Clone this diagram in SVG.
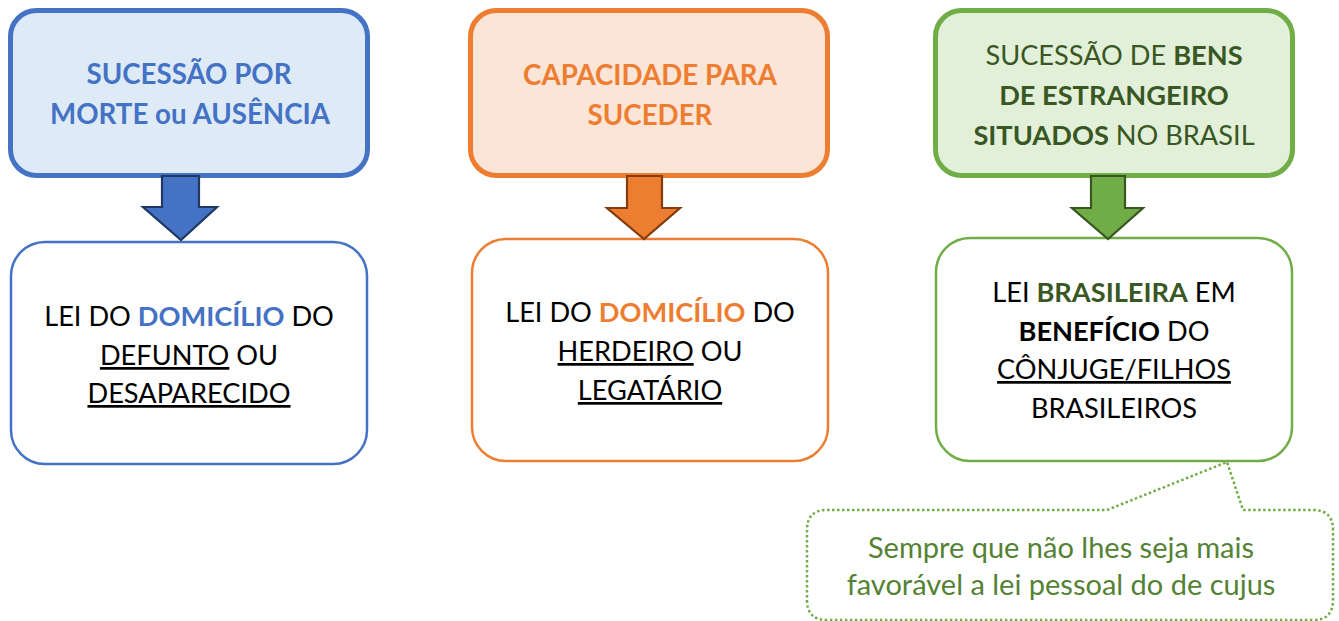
<svg xmlns="http://www.w3.org/2000/svg" width="1339" height="621" viewBox="0 0 1339 621">
<style>
text{font-family:Lato,"Open Sans","Liberation Sans",sans-serif;text-anchor:middle}
.hd{font-size:27.7px;font-weight:bold}
.gh{font-size:27.2px}
.bd{font-size:27.2px;fill:#000}
.nt{font-size:29px;fill:#548235}
.b{font-weight:bold}
.u{text-decoration:underline}
.blue{fill:#4472C4}
.org{fill:#ED7D31}
.dg{fill:#385723}
.top{stroke-width:5}
.bot{stroke-width:2.5;fill:#fff}
.arr{stroke-width:2.2;stroke-linejoin:miter}
</style>
<rect width="1339" height="621" fill="#fff"/>
<g id="n-sucessao">
<rect class="top" x="10.5" y="10.5" width="357" height="165" rx="26" fill="#DEEBF7" stroke="#4472C4"/>
<text class="hd blue" x="189" y="84">SUCESSÃO POR</text>
<text class="hd blue" x="190" y="124">MORTE ou AUSÊNCIA</text>
</g>
<g id="n-lei-defunto">
<rect class="bot" x="11" y="242" width="356" height="222" rx="34" stroke="#4472C4"/>
<text class="bd" x="189" y="326">LEI DO <tspan class="b blue">DOMICÍLIO</tspan> DO</text>
<text class="bd" x="189" y="365"><tspan class="u">DEFUNTO</tspan> OU</text>
<text class="bd" x="189" y="403"><tspan class="u">DESAPARECIDO</tspan></text>
</g>
<g id="n-capacidade">
<rect class="top" x="470.5" y="10.5" width="357" height="165" rx="26" fill="#FBE5D6" stroke="#ED7D31"/>
<text class="hd org" x="650" y="85">CAPACIDADE PARA</text>
<text class="hd org" x="650" y="125">SUCEDER</text>
</g>
<g id="n-lei-herdeiro">
<rect class="bot" x="472" y="239" width="356" height="222" rx="34" stroke="#ED7D31"/>
<text class="bd" x="650" y="322">LEI DO <tspan class="b org">DOMICÍLIO</tspan> DO</text>
<text class="bd" x="650" y="361"><tspan class="u">HERDEIRO</tspan> OU</text>
<text class="bd" x="650" y="400"><tspan class="u">LEGATÁRIO</tspan></text>
</g>
<g id="n-bens">
<rect class="top" x="935.5" y="10.5" width="357" height="165" rx="26" fill="#E2F0D9" stroke="#70AD47"/>
<text class="dg gh" x="1114" y="65">SUCESSÃO DE <tspan class="b">BENS</tspan></text>
<text class="dg gh b" x="1114" y="105">DE ESTRANGEIRO</text>
<text class="dg gh" x="1114" y="145"><tspan class="b">SITUADOS</tspan> NO BRASIL</text>
</g>
<g id="n-lei-brasileira">
<rect class="bot" x="936" y="238" width="356" height="223" rx="34" stroke="#70AD47"/>
<text class="bd" x="1114" y="302">LEI <tspan class="b dg">BRASILEIRA</tspan> EM</text>
<text class="bd" x="1114" y="341"><tspan class="b">BENEFÍCIO</tspan> DO</text>
<text class="bd" x="1114" y="379"><tspan class="u">CÔNJUGE/FILHOS</tspan></text>
<text class="bd" x="1114" y="418">BRASILEIROS</text>
</g>
<g id="n-nota">
<path d="M832,510 H1107 L1227,462 L1243,510 H1313 Q1333,510 1333,530 V600 Q1333,620 1313,620 H827 Q807,620 807,600 V530 Q807,510 827,510 Z" fill="none" stroke="#70AD47" stroke-width="2.5" stroke-dasharray="2.5 2.5"/>
<text class="nt" x="1061" y="558">Sempre que não lhes seja mais</text>
<text class="nt" x="1061" y="595">favorável a lei pessoal do de cujus</text>
</g>
<g id="connectors">
<polygon class="arr" points="162,176 199,176 199,207 217,207 181,240 143,207 162,207" fill="#4472C4" stroke="#1F3864"/>
<polygon class="arr" points="627,176 662,176 662,208 680,208 644,239 607,208 627,208" fill="#ED7D31" stroke="#843C0C"/>
<polygon class="arr" points="1091,176 1125,176 1125,208 1143,208 1108,239 1072,208 1091,208" fill="#70AD47" stroke="#385723"/>
</g>
</svg>
